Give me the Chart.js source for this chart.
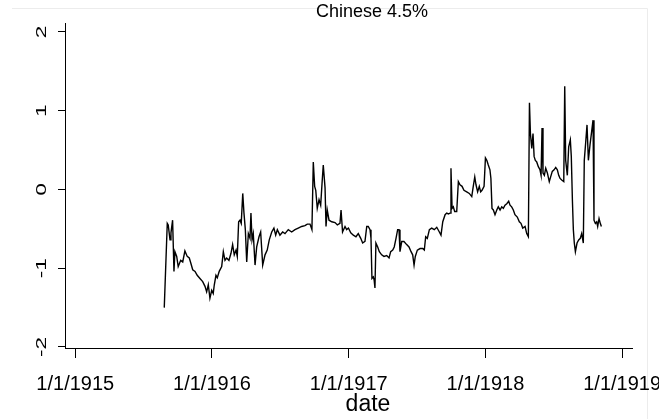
<!DOCTYPE html>
<html>
<head>
<meta charset="utf-8">
<script src="https://cdn.jsdelivr.net/npm/chart.js@4"></script>
<style>
    html, body { margin: 0; padding: 0; background: #fff; }
    #wrap { width: 659px; height: 419px; }
</style>
</head>
<body>
<div id="wrap"><canvas id="chart" width="659" height="419"></canvas></div>
<script>
// dates as decimal years
const dates = [
    1915.651, 1915.673, 1915.680, 1915.693, 1915.700, 1915.712, 1915.722, 1915.729, 1915.742, 1915.753,
    1915.771, 1915.786, 1915.802, 1915.819, 1915.834, 1915.846, 1915.859, 1915.876, 1915.892, 1915.912,
    1915.932, 1915.949, 1915.961, 1915.973, 1915.985, 1915.998, 1916.009, 1916.017, 1916.029, 1916.039,
    1916.053, 1916.071, 1916.083, 1916.095, 1916.107, 1916.124, 1916.139, 1916.151, 1916.163, 1916.176,
    1916.185, 1916.195, 1916.205, 1916.214, 1916.225, 1916.234, 1916.244, 1916.254, 1916.266, 1916.278,
    1916.285, 1916.293, 1916.302, 1916.315, 1916.327, 1916.344, 1916.356, 1916.371, 1916.388, 1916.404,
    1916.419, 1916.437, 1916.453, 1916.466, 1916.478, 1916.497, 1916.517, 1916.534, 1916.558, 1916.583,
    1916.607, 1916.631, 1916.656, 1916.680, 1916.697, 1916.717, 1916.731, 1916.741, 1916.751, 1916.759,
    1916.770, 1916.783, 1916.795, 1916.805, 1916.814, 1916.827, 1916.834, 1916.843, 1916.856, 1916.876,
    1916.900, 1916.917, 1916.936, 1916.944, 1916.955, 1916.973, 1916.985, 1916.998, 1917.015, 1917.034,
    1917.053, 1917.070, 1917.088, 1917.102, 1917.119, 1917.132, 1917.143, 1917.156, 1917.163, 1917.170,
    1917.180, 1917.186, 1917.192, 1917.199, 1917.212, 1917.224, 1917.241, 1917.258, 1917.278, 1917.295,
    1917.307, 1917.322, 1917.333, 1917.346, 1917.358, 1917.368, 1917.375, 1917.388, 1917.404, 1917.424,
    1917.441, 1917.456, 1917.468, 1917.478, 1917.487, 1917.502, 1917.522, 1917.541, 1917.553, 1917.563,
    1917.575, 1917.590, 1917.607, 1917.626, 1917.644, 1917.663, 1917.675, 1917.688, 1917.705, 1917.717,
    1917.729, 1917.741, 1917.748, 1917.756, 1917.765, 1917.775, 1917.790, 1917.802, 1917.814, 1917.829,
    1917.843, 1917.863, 1917.882, 1917.900, 1917.911, 1917.922, 1917.931, 1917.943, 1917.955, 1917.965,
    1917.975, 1917.990, 1918.000, 1918.010, 1918.021, 1918.033, 1918.040, 1918.048, 1918.058, 1918.070,
    1918.083, 1918.094, 1918.107, 1918.119, 1918.131, 1918.143, 1918.156, 1918.170, 1918.180, 1918.192,
    1918.204, 1918.216, 1918.233, 1918.248, 1918.260, 1918.273, 1918.290, 1918.302, 1918.314, 1918.322,
    1918.329, 1918.339, 1918.348, 1918.356, 1918.365, 1918.375, 1918.387, 1918.399, 1918.407, 1918.414,
    1918.421, 1918.431, 1918.441, 1918.453, 1918.467, 1918.477, 1918.489, 1918.502, 1918.514, 1918.526,
    1918.536, 1918.546, 1918.558, 1918.573, 1918.580, 1918.587, 1918.599, 1918.609, 1918.621, 1918.628,
    1918.636, 1918.643, 1918.650, 1918.658, 1918.670, 1918.682, 1918.694, 1918.704, 1918.716, 1918.723,
    1918.733, 1918.743, 1918.753, 1918.765, 1918.775, 1918.787, 1918.794, 1918.804, 1918.814, 1918.821,
    1918.831, 1918.840, 1918.848
];

const values = [
    -1.50, -0.43, -0.45, -0.64, -0.55, -0.39, -1.04, -0.79, -0.85, -0.98,
    -0.90, -0.92, -0.78, -0.85, -0.87, -0.94, -1.02, -1.04, -1.09, -1.13,
    -1.17, -1.23, -1.30, -1.21, -1.38, -1.28, -1.32, -1.21, -1.09, -1.12,
    -1.04, -0.98, -0.79, -0.90, -0.87, -0.90, -0.81, -0.70, -0.83, -0.77,
    -0.85, -0.41, -0.39, -0.43, -0.05, -0.30, -0.51, -0.92, -0.56, -0.62,
    -0.30, -0.64, -0.56, -0.96, -0.73, -0.60, -0.54, -0.96, -0.83, -0.77,
    -0.64, -0.54, -0.49, -0.58, -0.51, -0.58, -0.54, -0.56, -0.51, -0.54,
    -0.51, -0.49, -0.47, -0.46, -0.44, -0.44, -0.51, 0.35, 0.04, -0.01,
    -0.24, -0.13, -0.20, 0.08, 0.31, 0.02, -0.47, -0.26, -0.39, -0.41,
    -0.42, -0.45, -0.43, -0.26, -0.54, -0.47, -0.51, -0.49, -0.55, -0.58,
    -0.60, -0.56, -0.62, -0.68, -0.66, -0.47, -0.47, -0.51, -0.62, -1.13,
    -1.11, -1.15, -1.25, -0.68, -0.73, -0.79, -0.83, -0.85, -0.84, -0.87,
    -0.79, -0.77, -0.73, -0.62, -0.51, -0.51, -0.79, -0.66, -0.66, -0.70,
    -0.73, -0.79, -0.83, -0.96, -0.85, -0.77, -0.75, -0.75, -0.77, -0.60,
    -0.62, -0.51, -0.49, -0.51, -0.48, -0.54, -0.58, -0.41, -0.32, -0.30,
    -0.31, -0.30, 0.27, -0.24, -0.22, -0.28, -0.28, 0.10, 0.06, 0.04,
    -0.01, -0.03, -0.05, -0.09, 0.04, 0.16, 0.06, -0.03, 0.04, -0.03,
    -0.01, 0.04, 0.40, 0.37, 0.31, 0.25, 0.14, -0.24, -0.26, -0.32,
    -0.26, -0.22, -0.26, -0.22, -0.24, -0.20, -0.18, -0.15, -0.20, -0.22,
    -0.26, -0.32, -0.35, -0.41, -0.43, -0.49, -0.47, -0.56, -0.60, 1.10,
    0.71, 0.52, 0.71, 0.42, 0.37, 0.35, 0.29, 0.25, 0.18, 0.78,
    0.21, 0.18, 0.27, 0.21, 0.10, 0.16, 0.23, 0.25, 0.28, 0.25,
    0.18, 0.14, 0.12, 0.10, 1.31, 0.37, 0.18, 0.54, 0.63, 0.42,
    -0.13, -0.51, -0.68, -0.79, -0.68, -0.64, -0.62, -0.56, -0.68, 0.37,
    0.59, 0.82, 0.37, 0.57, 0.71, 0.88, -0.39, -0.43, -0.41, -0.47,
    -0.37, -0.43, -0.47
];

const xTicks = [1915, 1916, 1917, 1918, 1919];
const yTicks = [-2, -1, 0, 1, 2];
const chartTitle = 'Chinese 4.5%';
const xTitle = 'date';

const points = dates.map((d, i) => ({ x: d, y: values[i] }));

const FONT = '"Liberation Sans", Arial, sans-serif';

// title, x title, faint outer frame and the rotated (stretched) y tick labels
const extras = {
    id: 'extras',
    beforeDraw(chart) {
        const c = chart.ctx;
        c.save();
        c.fillStyle = '#fff';
        c.fillRect(0, 0, chart.width, chart.height);
        c.strokeStyle = '#ececec';
        c.lineWidth = 1;
        c.beginPath();
        c.moveTo(12, 8.5);
        c.lineTo(647.5, 8.5);
        c.lineTo(647.5, 419);
        c.stroke();
        c.restore();
    },
    afterDraw(chart) {
        const c = chart.ctx;
        c.save();
        c.fillStyle = '#000';
        c.textAlign = 'center';
        c.textBaseline = 'middle';
        c.font = '18px ' + FONT;
        c.fillText(chartTitle, 372, 12);
        c.font = '23px ' + FONT;
        c.fillText(xTitle, 368, 405);

        const ys = chart.scales.y;
        c.font = '15px ' + FONT;
        yTicks.forEach(v => {
            const py = ys.getPixelForValue(v);
            c.save();
            c.translate(41, py);
            c.rotate(-Math.PI / 2);
            c.scale(1.5, 1);
            c.fillText(String(v), 0, 1);
            c.restore();
        });
        c.restore();
    }
};

new Chart(document.getElementById('chart'), {
    type: 'line',
    data: {
        datasets: [{
            data: points,
            borderColor: '#000',
            borderWidth: 1.4,
            pointRadius: 0,
            tension: 0,
            fill: false
        }]
    },
    options: {
        responsive: false,
        animation: false,
        events: [],
        layout: { padding: { left: 0, top: 23, right: 27, bottom: 0 } },
        plugins: {
            legend: { display: false },
            tooltip: { enabled: false }
        },
        scales: {
            x: {
                type: 'linear',
                min: 1914.925,
                max: 1919.072,
                afterBuildTicks: s => { s.ticks = xTicks.map(v => ({ value: v })); },
                afterFit: s => { s.height = 71; s.paddingLeft = 0; s.paddingRight = 0; },
                grid: { drawOnChartArea: false, drawTicks: true, tickLength: 10, color: '#000' },
                border: { display: true, color: '#000', width: 1 },
                ticks: {
                    color: '#000',
                    font: { family: FONT, size: 20 },
                    padding: 14,
                    maxRotation: 0,
                    autoSkip: false,
                    callback: v => '1/1/' + v
                }
            },
            y: {
                type: 'linear',
                min: -2.013,
                max: 2.114,
                afterBuildTicks: s => { s.ticks = yTicks.map(v => ({ value: v })); },
                afterFit: s => { s.width = 65; s.paddingTop = 0; s.paddingBottom = 0; },
                grid: { drawOnChartArea: false, drawTicks: true, tickLength: 7, color: '#000' },
                border: { display: true, color: '#000', width: 1 },
                ticks: { display: false }
            }
        }
    },
    plugins: [extras]
});
</script>
</body>
</html>
